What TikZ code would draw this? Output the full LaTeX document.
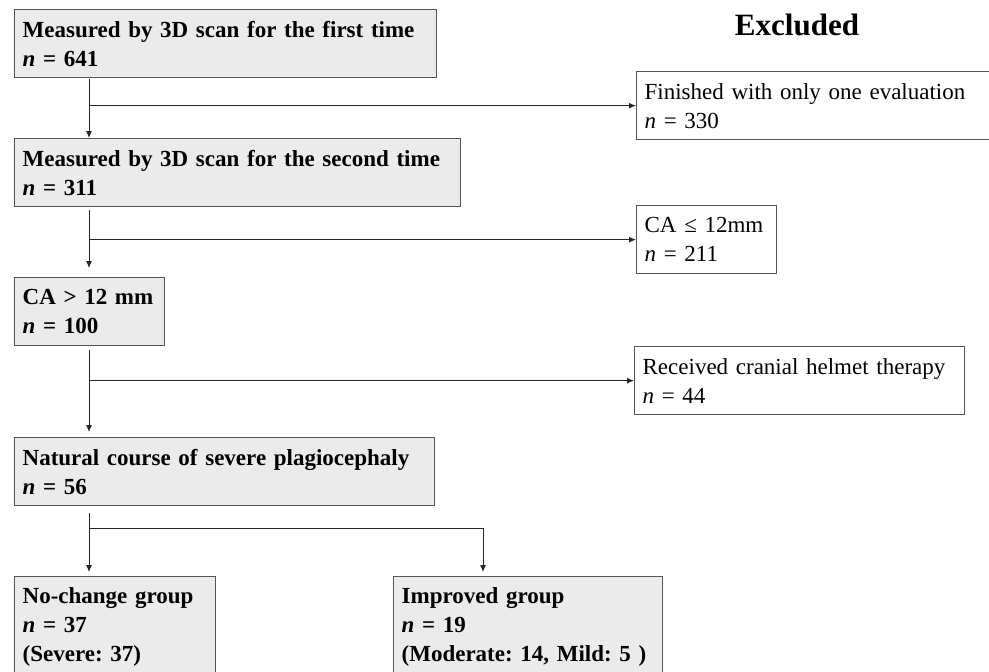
\documentclass[tikz,border=0pt]{standalone}
\usepackage{fontspec}
\setmainfont{Liberation Serif}
\frenchspacing
\usetikzlibrary{arrows.meta,positioning}
\definecolor{boxgray}{RGB}{235,235,235}
\definecolor{linegray}{RGB}{85,85,85}
\tikzset{
  incl/.style={draw=linegray, line width=1.3pt, fill=boxgray, anchor=north west,
    align=left, inner xsep=8pt, inner ysep=11pt, minimum height=68pt,
    font=\fontsize{23}{29}\selectfont\bfseries},
  excl/.style={incl, fill=white, font=\fontsize{23}{29}\selectfont},
  flow/.style={draw=black!85, line width=1pt, -{Latex[length=7pt,width=6pt]}},
}

\begin{document}
\begin{tikzpicture}[x=1pt,y=-1pt]
  \useasboundingbox (0,0) rectangle (989,672);
  \node[font=\fontsize{31}{36}\selectfont\bfseries, anchor=base] (title) at (797,35) {Excluded};

  \node[incl, text width=406pt] (first) at (14,9) {Measured by 3D scan for the first time\\\textit{n} = 641};
  \node[incl, text width=430pt] (second) at (14,138) {Measured by 3D scan for the second time\\\textit{n} = 311};
  \node[incl, text width=134pt] (ca) at (14,277) {CA~>~12~mm\\\textit{n} = 100};
  \node[incl, text width=404pt] (natural) at (14,437) {Natural course of severe plagiocephaly\\\textit{n} = 56};
  \node[incl, text width=185pt] (nochange) at (14,576) {No-change group\\\textit{n} = 37\\(Severe: 37)};
  \node[incl, text width=253pt] (improved) at (393,576) {Improved group\\\textit{n} = 19\\(Moderate: 14, Mild: 5 )};

  \node[excl, text width=344pt] (onlyone) at (636,71) {Finished with only one evaluation\\\textit{n} = 330};
  \node[excl, text width=124pt] (small) at (636,205) {CA~≤~12mm\\\textit{n} = 211};
  \node[excl, text width=314pt] (helmet) at (634,346) {Received cranial helmet therapy\\\textit{n} = 44};

  \coordinate (trunk) at (89,0);
  \coordinate (fork) at (89,528);
  \coordinate (side) at (483,528);

  \draw[flow, shorten <=1pt] (first.south -| trunk) -- (second.north -| trunk);
  \draw[flow] (onlyone.west -| trunk) -- (onlyone.west);
  \draw[flow, shorten <=3pt, shorten >=9pt] (second.south -| trunk) -- (ca.north -| trunk);
  \draw[flow] (small.west -| trunk) -- (small.west);
  \draw[flow, shorten <=4pt, shorten >=5pt] (ca.south -| trunk) -- (natural.north -| trunk);
  \draw[flow] (helmet.west -| trunk) -- (helmet.west);
  \draw[flow, shorten <=7pt, shorten >=4pt] (natural.south -| trunk) -- (nochange.north -| trunk);
  \draw[flow, shorten >=4pt] (fork) -- (side) -- (side |- improved.north);
\end{tikzpicture}
\end{document}
